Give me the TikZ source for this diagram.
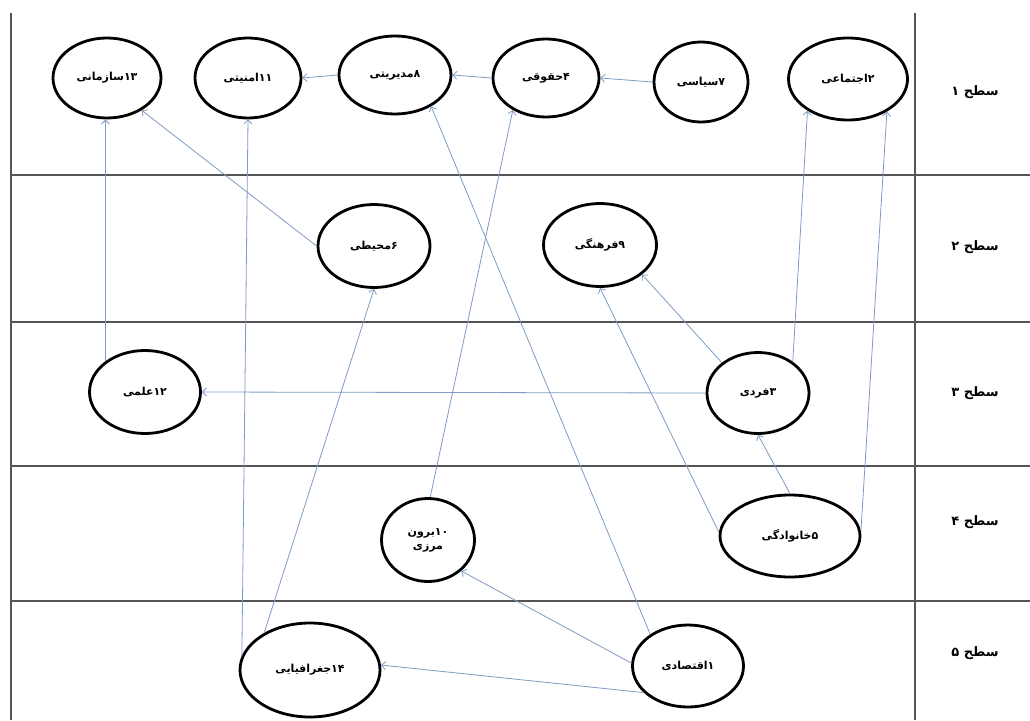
\documentclass[tikz,border=0pt]{standalone}
\usepackage{fontspec}
\usetikzlibrary{shapes.geometric,arrows.meta}
\TeXXeTstate=1
\newfontfamily\fa[Script=Arabic]{DejaVu Sans}
\definecolor{edgeblue}{RGB}{125,155,195}
\definecolor{framegray}{RGB}{85,85,85}
\tikzset{
  factor/.style={ellipse, draw=black, line width=2.8pt, inner sep=0pt, font=\fa\bfseries\fontsize{11}{14}\selectfont, align=center},
  link/.style={draw=edgeblue, line width=0.8pt, -{Straight Barb[length=4pt,width=8pt]}},
  frameline/.style={draw=framegray, line width=1.1pt},
  levellabel/.style={font=\fa\bfseries\fontsize{13}{15}\selectfont}
}
\begin{document}
\begin{tikzpicture}[x=1pt,y=-1pt]
\useasboundingbox (0,0) rectangle (1030,720);
% frame
\coordinate (tl) at (11,13);
\coordinate (bl) at (11,720);
\coordinate (tr) at (915,13);
\coordinate (br) at (915,720);
\draw[frameline] (tl) -- (bl);
\draw[frameline] (tr) -- (br);
\foreach \yy/\nm in {175/a,322/b,466/c,601/d}{
  \coordinate (hl\nm) at (11,\yy);
  \coordinate (hr\nm) at (1030,\yy);
  \draw[frameline] (hl\nm) -- (hr\nm);
}
% level labels
\node[levellabel] (s1) at (975,92) {\beginR سطح ۱\endR};
\node[levellabel] (s2) at (975,247) {\beginR سطح ۲\endR};
\node[levellabel] (s3) at (975,393) {\beginR سطح ۳\endR};
\node[levellabel] (s4) at (975,522) {\beginR سطح ۴\endR};
\node[levellabel] (s5) at (975,653) {\beginR سطح ۵\endR};
% nodes level 1
\node[factor, minimum width=108pt, minimum height=80pt] (n13) at (107,78) {\beginR ۱۳سازمانی\endR};
\node[factor, minimum width=106pt, minimum height=80pt] (n11) at (248,78) {\beginR ۱۱امنیتی\endR};
\node[factor, minimum width=112pt, minimum height=78pt] (n8) at (395,75) {\beginR ۸مدیریتی\endR};
\node[factor, minimum width=106pt, minimum height=78pt] (n4) at (546,78) {\beginR ۴حقوقی\endR};
\node[factor, minimum width=94pt, minimum height=80pt] (n7) at (701,82) {\beginR ۷سیاسی\endR};
\node[factor, minimum width=119pt, minimum height=82pt] (n2) at (848,79) {\beginR ۲اجتماعی\endR};
% level 2
\node[factor, minimum width=112pt, minimum height=83pt] (n6) at (374,246) {\beginR ۶محیطی\endR};
\node[factor, minimum width=113pt, minimum height=83pt] (n9) at (600,245) {\beginR ۹فرهنگی\endR};
% level 3
\node[factor, minimum width=111pt, minimum height=83pt] (n12) at (145,392) {\beginR ۱۲علمی\endR};
\node[factor, minimum width=102pt, minimum height=81pt] (n3) at (758,393) {\beginR ۳فردی\endR};
% level 4
\node[factor, minimum width=93pt, minimum height=83pt] (n10) at (428,540) {\beginR ۱۰برون\endR\\\beginR مرزی\endR};
\node[factor, minimum width=140pt, minimum height=82pt] (n5) at (790,536) {\beginR ۵خانوادگی\endR};
% level 5
\node[factor, minimum width=140pt, minimum height=94pt] (n14) at (310,670) {\beginR ۱۴جغرافیایی\endR};
\node[factor, minimum width=111pt, minimum height=82pt] (n1) at (688,666) {\beginR ۱اقتصادی\endR};
% connectors
\draw[link] (n7.west) -- (n4.east);
\draw[link] (n4.west) -- (n8.east);
\draw[link] (n8.west) -- (n11.east);
\draw[link] (n6.west) -- (n13.-43);
\draw[link] (n12.142) -- (n12.142 |- n13.south);
\draw[link] (n14.168) -- (n11.south);
\draw[link] (n14.141) -- (n6.south);
\draw[link] (n1.140) -- (n8.-41);
\draw[link] (n10.87) -- (n4.224);
\draw[link] (n1.177) -- (n10.-43);
\draw[link] (n1.211) -- (n14.4);
\draw[link] (n3.west) -- (n12.east);
\draw[link] (n3.140) -- (n9.-35);
\draw[link] (n3.42) -- (n2.218);
\draw[link] (n5.177) -- (n9.south);
\draw[link] (n5.north) -- (n3.south);
\draw[link] (n5.4) -- (n2.-40);
\end{tikzpicture}
\end{document}
